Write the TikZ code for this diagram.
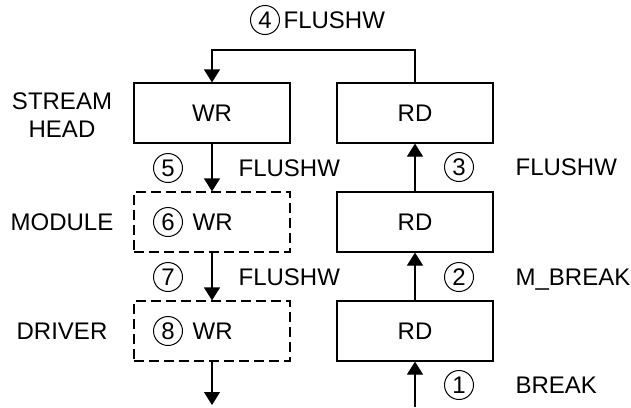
\documentclass[tikz,border=0pt]{standalone}
\usepackage{fontspec}
\setmainfont{Liberation Sans}
\usetikzlibrary{arrows.meta}

\begin{document}
\begin{tikzpicture}[x=1pt, y=1pt, node distance={109pt}, line width=1.2pt,
    font=\fontsize{24}{28}\selectfont,
    main/.style = {draw, rectangle, minimum width=156pt, minimum height=60pt, inner sep=0pt},
    mod/.style = {main, dash pattern=on 10pt off 5pt},
    num/.style = {draw, circle, minimum size=29pt, inner sep=0pt, line width=1pt},
    lbl/.style = {anchor=west, inner sep=0pt, text height=17pt, text depth=0pt},
    arr/.style = {-{Triangle[width=16pt,length=13pt]}}]
    \useasboundingbox (0,0) rectangle (631,-407);
    \node[main] (1) at (212,-113) {WR};
    \node[main] (2) [right of=1, node distance={203pt}] {RD};
    \node[mod] (3) [below of=1] {};
    \node[main] (4) [below of=2] {RD};
    \node[mod] (5) [below of=3] {};
    \node[main] (6) [below of=4] {RD};
    \node[align=center] (sh) at (62,-115) {STREAM\\HEAD};
    \node (mo) at (62,-222) {MODULE};
    \node (dr) at (62,-331) {DRIVER};
    \node[num] (c6) at (168,-222) {6};
    \node[lbl, xshift=9pt] (w6) at (c6.east) {WR};
    \node[num] (c8) at (168,-331) {8};
    \node[lbl, xshift=9pt] (w8) at (c8.east) {WR};
    % numbered steps
    \node[num] (c4) at (265,-20) {4};
    \node[lbl] (f4) at (283,-20) {FLUSHW};
    \node[num] (c5) at (168,-168) {5};
    \node[lbl] (f5) at (238,-168) {FLUSHW};
    \node[num] (c7) at (168,-277) {7};
    \node[lbl] (f7) at (238,-277) {FLUSHW};
    \node[num] (c3) at (459,-167) {3};
    \node[lbl] (f3) at (515,-167) {FLUSHW};
    \node[num] (c2) at (459,-277) {2};
    \node[lbl] (f2) at (515,-277) {M\_BREAK};
    \node[num] (c1) at (459,-385) {1};
    \node[lbl] (f1) at (515,-385) {BREAK};
    \coordinate (t) at (415,-50);
    \coordinate (o) at (212,-405);
    \coordinate (i) at (415,-407);
    \draw[arr] (2.north) -- (t) -| (1.north);
    \draw[arr] (1) -- (3);
    \draw[arr] (3) -- (5);
    \draw[arr] (5) -- (o);
    \draw[arr] (i) -- (6);
    \draw[arr] (6) -- (4);
    \draw[arr] (4) -- (2);
\end{tikzpicture}
\end{document}
